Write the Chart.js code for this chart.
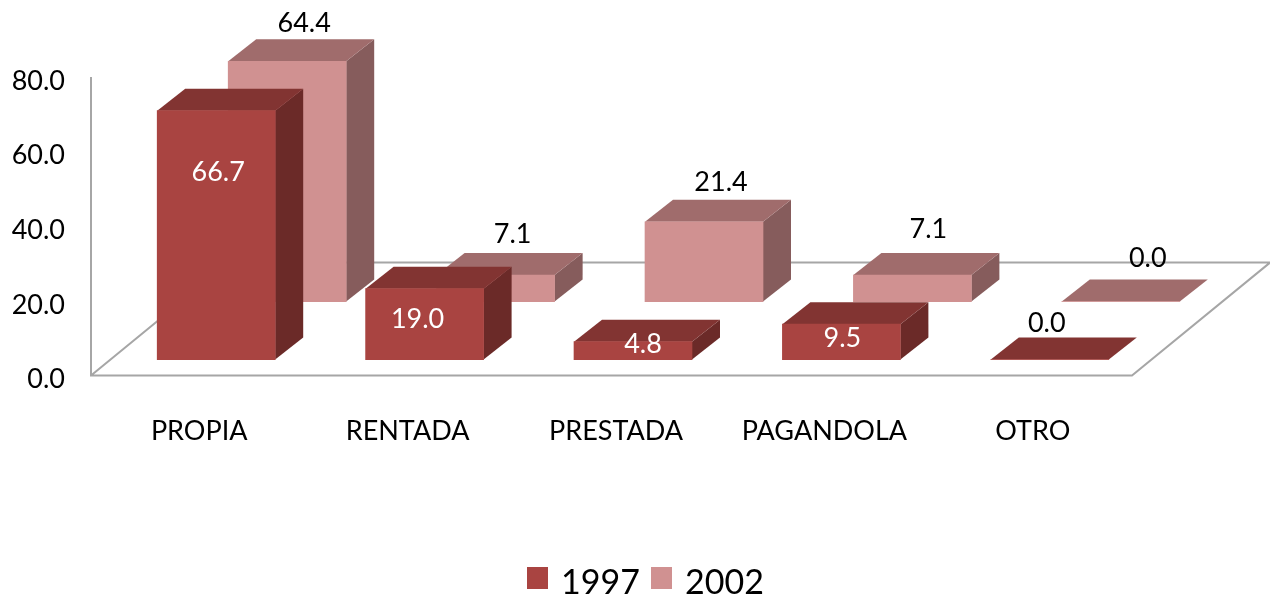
<!DOCTYPE html>
<html><head><meta charset="utf-8">
<style>html,body{margin:0;padding:0;background:#fff}canvas{display:block}</style>
<script src="https://cdn.jsdelivr.net/npm/chart.js@4"></script>
</head><body><canvas id="c" width="1270" height="597"></canvas>
<script>
const categories = ['PROPIA','RENTADA','PRESTADA','PAGANDOLA','OTRO'];
const values1997 = [66.7,19.0,4.8,9.5,0.0];
const values2002 = [64.4,7.1,21.4,7.1,0.0];
const yTicksMax = 80;

// 3D look, one entry per dataset (not data)
const looks = [
  {dx:17, dy:-16, front:'#A94441', top:'#823432', side:'#6B2A28', labelColors:['#fff','#fff','#fff','#fff','#000'],
   labelOffsets:[[2,62],[-7,31],[10,3],[1,14],[-3,-36]]},
  {dx:88, dy:-74, front:'#D09191', top:'#A06C6C', side:'#865C5C', labelColors:['#000','#000','#000','#000','#000'],
   labelOffsets:[[17,-38],[17,-41],[17,-39],[16,-46],[27,-43]]}
];
const depthX = 28, depthY = 22, floorDX = 138, floorDY = 113, axisGap = 4;
const FONT = 'Lato, Carlito, sans-serif';

function swatch(color){
  const c = document.createElement('canvas'); c.width = 21; c.height = 32;
  const g = c.getContext('2d'); g.fillStyle = color; g.fillRect(0,0,21,22);
  return c;
}
function poly(ctx, pts, fill){
  ctx.beginPath(); pts.forEach((p,i)=> i?ctx.lineTo(p[0],p[1]):ctx.moveTo(p[0],p[1])); ctx.closePath();
  ctx.fillStyle = fill; ctx.fill();
}
const threeD = {
  id:'threeD',
  afterLayout(chart){
    const lg = chart.legend;
    lg.left = 12; lg.right = 1282;
    lg.top = 581 - lg.height/2; lg.bottom = lg.top + lg.height;
  },
  beforeDatasetsDraw(chart){
    const {ctx, scales:{x,y}} = chart;
    const L = x.left-axisGap, B = y.getPixelForValue(0), T = y.getPixelForValue(yTicksMax), R = x.right-5;
    ctx.save();
    ctx.strokeStyle = '#A6A6A6'; ctx.lineWidth = 2;
    ctx.beginPath();
    ctx.moveTo(L,T); ctx.lineTo(L,B); ctx.lineTo(R,B);
    ctx.lineTo(R+floorDX,B-floorDY); ctx.lineTo(L+floorDX,B-floorDY); ctx.lineTo(L,B);
    ctx.stroke();
    ctx.restore();
  },
  beforeDatasetDraw(chart,args){
    const {ctx} = chart, lk = looks[args.index];
    ctx.save();
    ctx.translate(lk.dx, lk.dy);
    chart.getDatasetMeta(args.index).data.forEach(b=>{
      const w = b.width/2, l = b.x-w, r = b.x+w, t = b.y, base = b.base;
      if(base-t>0.5) poly(ctx,[[r,t],[r+depthX,t-depthY],[r+depthX,base-depthY],[r,base]],lk.side);
      poly(ctx,[[l,t],[r,t],[r+depthX,t-depthY],[l+depthX,t-depthY]],lk.top);
    });
  },
  afterDatasetDraw(chart){ chart.ctx.restore(); },
  afterDatasetsDraw(chart){
    const {ctx} = chart;
    ctx.save();
    ctx.font = '27px '+FONT; ctx.textAlign='center'; ctx.textBaseline='middle';
    [1,0].forEach(i=>{
      const lk = looks[i], ds = chart.data.datasets[i];
      chart.getDatasetMeta(i).data.forEach((b,k)=>{
        ctx.fillStyle = lk.labelColors[k];
        const o = lk.labelOffsets[k];
        ctx.fillText(ds.data[k].toFixed(1), b.x+lk.dx+o[0], b.y+lk.dy+o[1]);
      });
    });
    ctx.restore();
  }
};

new Chart(document.getElementById('c'),{
  type:'bar',
  data:{labels:categories,datasets:[
    {label:'1997',data:values1997,backgroundColor:looks[0].front,clip:false},
    {label:'2002',data:values2002,backgroundColor:looks[1].front,clip:false}
  ]},
  options:{
    responsive:false,animation:false,
    layout:{padding:{top:77,right:133,left:0,bottom:61}},
    datasets:{bar:{grouped:false,barThickness:118,borderWidth:0}},
    scales:{
      x:{grid:{display:false},border:{display:false},
         ticks:{color:'#000',font:{family:FONT,size:27},padding:31,maxRotation:0,autoSkip:false}},
      y:{min:0,max:yTicksMax,grid:{display:false},border:{display:false},
         afterFit(s){s.width=95;},
         ticks:{stepSize:20,color:'#000',font:{family:FONT,size:27},padding:22,labelOffset:4,callback:v=>v.toFixed(1)}}
    },
    plugins:{
      tooltip:{enabled:false},
      legend:{position:'bottom',labels:{boxWidth:14,usePointStyle:true,color:'#000',padding:14,font:{family:FONT,size:34},
        generateLabels(chart){
          return Chart.defaults.plugins.legend.labels.generateLabels(chart).map((it,i)=>
            Object.assign(it,{pointStyle:swatch(looks[i].front)}));
        }}}
    }
  },
  plugins:[threeD]
});
</script></body></html>
